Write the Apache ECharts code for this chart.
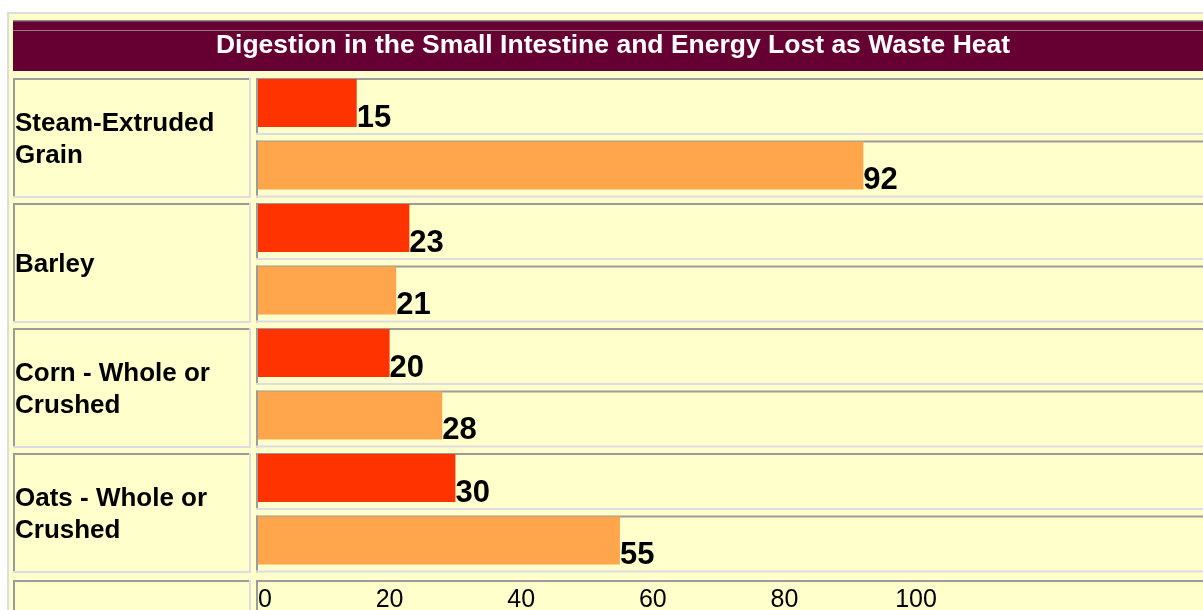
<!DOCTYPE html>
<html>
<head>
<meta charset="utf-8">
<script src="https://cdn.jsdelivr.net/npm/echarts@6/dist/echarts.min.js"></script>
<style>
  html, body { margin: 0; padding: 0; background: #fff; }
  #chart { width: 1203px; height: 610px; }
</style>
</head>
<body>
<div id="chart"></div>
<script>
// data
const categories = ['Steam-Extruded\nGrain', 'Barley', 'Corn - Whole or\nCrushed', 'Oats - Whole or\nCrushed'];
const smallIntestine = [15, 23, 20, 30];
const wasteHeat = [92, 21, 28, 55];
const xTickLabels = [0, 20, 40, 60, 80, 100];

const font = 'Liberation Sans, Arial, Helvetica, sans-serif';

// table layout (page-like cells behind the chart)
const plotLeft = 258;
const rowTop = 78;
const rowPitch = 62.5;
const groupPitch = 125;

function cell(x, y, w, h) {
    return [
        { type: 'rect', shape: { x: x, y: y, width: w, height: h }, style: { fill: '#FFFFCC' } },
        { type: 'rect', shape: { x: x, y: y, width: w, height: 2 }, style: { fill: '#9c9c9c' } },
        { type: 'rect', shape: { x: x, y: y, width: 2, height: h }, style: { fill: '#9c9c9c' } },
        { type: 'rect', shape: { x: x, y: y + h - 2, width: w, height: 2 }, style: { fill: '#dcdce4' } },
        { type: 'rect', shape: { x: x + w - 2, y: y, width: 2, height: h }, style: { fill: '#dcdce4' } }
    ];
}

let shapes = [
    { type: 'rect', shape: { x: 8, y: 13, width: 1220, height: 640 }, style: { fill: '#FFFFCC', stroke: '#dcdcdc', lineWidth: 2 } },
    { type: 'rect', shape: { x: 13, y: 20, width: 1200, height: 51 }, style: { fill: '#660033' } },
    { type: 'rect', shape: { x: 13, y: 20, width: 1200, height: 1.5 }, style: { fill: '#8a8a8a' } },
    { type: 'rect', shape: { x: 13, y: 30, width: 1200, height: 1 }, style: { fill: '#a07088' } }
];
for (let g = 0; g < categories.length; g++) {
    shapes = shapes.concat(cell(13, rowTop + g * groupPitch, 238, 120));
}
for (let k = 0; k < categories.length * 2; k++) {
    shapes = shapes.concat(cell(256, rowTop + k * rowPitch, 1000, 57));
}
shapes = shapes.concat(cell(13, 580, 238, 60));
shapes = shapes.concat(cell(256, 580, 1000, 60));

const chart = echarts.init(document.getElementById('chart'));
chart.setOption({
    backgroundColor: '#ffffff',
    animation: false,
    title: {
        text: 'Digestion in the Small Intestine and Energy Lost as Waste Heat',
        left: 613,
        top: 32,
        padding: 0,
        textAlign: 'center',
        textStyle: { color: '#ffffff', fontSize: 26.5, fontWeight: 'bold', fontFamily: font }
    },
    graphic: { elements: shapes.map(s => Object.assign({ z: -10, silent: true }, s)) },
    grid: {
        left: plotLeft,
        top: 71.75,
        width: 987,
        height: 500,
        outerBoundsMode: 'none',
        containLabel: false
    },
    xAxis: {
        type: 'value',
        min: 0,
        max: 150,
        interval: 20,
        axisLine: { show: false },
        axisTick: { show: false },
        splitLine: { show: false },
        axisLabel: {
            margin: 16,
            color: '#000',
            fontSize: 25,
            fontFamily: font,
            alignMinLabel: 'left',
            showMaxLabel: false,
            formatter: v => (xTickLabels.indexOf(v) >= 0 ? String(v) : '')
        }
    },
    yAxis: {
        type: 'category',
        inverse: true,
        data: categories,
        axisLine: { show: false },
        axisTick: { show: false },
        splitLine: { show: false },
        axisLabel: {
            interval: 0,
            align: 'left',
            margin: 243,
            color: '#000',
            fontSize: 26,
            fontWeight: 'bold',
            lineHeight: 32,
            fontFamily: font,
            // blank spacer line pushes the text a few px down, like the table cell
            formatter: v => '{s|}\n' + v,
            rich: { s: { fontSize: 1, lineHeight: 11 } }
        }
    },
    series: [
        {
            name: 'Small Intestine',
            type: 'bar',
            data: smallIntestine,
            barWidth: 48,
            barGap: '30.2%',
            itemStyle: { color: '#FF3300' },
            label: {
                show: true,
                position: 'right',
                distance: 0,
                offset: [0, 15],
                color: '#000',
                fontSize: 31,
                fontWeight: 'bold',
                fontFamily: font
            }
        },
        {
            name: 'Waste Heat',
            type: 'bar',
            data: wasteHeat,
            barWidth: 48,
            barGap: '30.2%',
            itemStyle: { color: '#FFA64D' },
            label: {
                show: true,
                position: 'right',
                distance: 0,
                offset: [0, 15],
                color: '#000',
                fontSize: 31,
                fontWeight: 'bold',
                fontFamily: font
            }
        }
    ]
});
</script>
</body>
</html>
